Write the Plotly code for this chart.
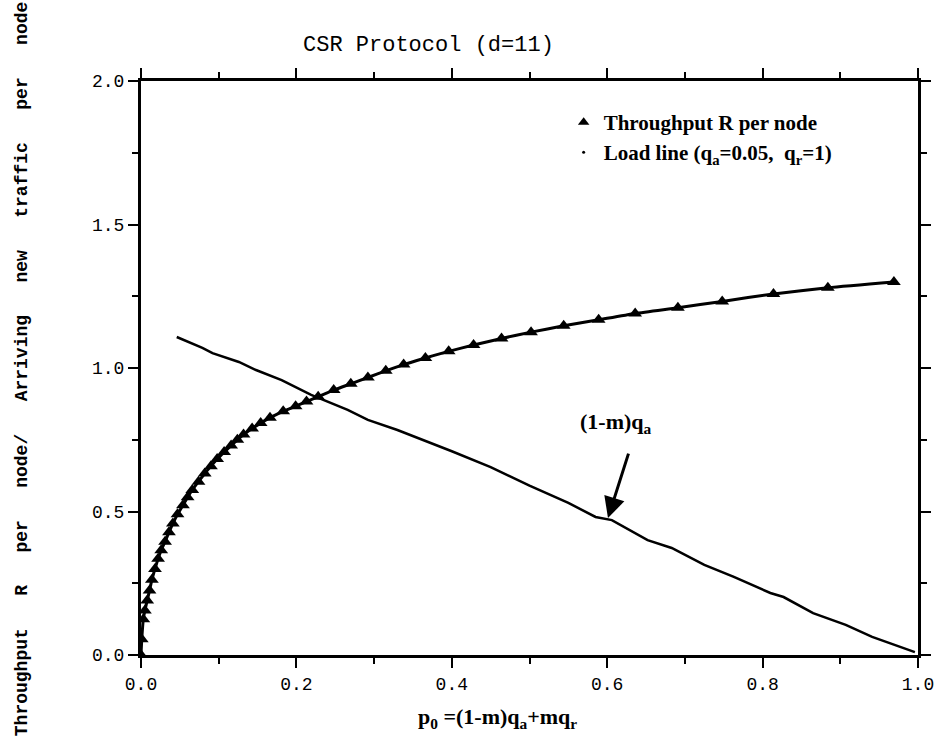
import plotly.graph_objects as go

# Throughput R per node (triangles)
thr_x = [0.0, 0.001, 0.003, 0.005, 0.008, 0.011, 0.014, 0.018, 0.022, 0.026, 0.031, 0.036,
         0.041, 0.047, 0.054, 0.060, 0.066, 0.074, 0.082, 0.090, 0.098, 0.107, 0.116, 0.124,
         0.132, 0.143, 0.154, 0.166, 0.183, 0.199, 0.213, 0.228, 0.248, 0.270, 0.292, 0.315,
         0.338, 0.366, 0.396, 0.428, 0.464, 0.502, 0.544, 0.589, 0.636, 0.691, 0.748, 0.814,
         0.884, 0.969]
thr_y = [0.0, 0.055, 0.125, 0.155, 0.190, 0.225, 0.262, 0.300, 0.335, 0.365, 0.395, 0.428,
         0.458, 0.490, 0.522, 0.550, 0.575, 0.604, 0.632, 0.658, 0.683, 0.707, 0.730, 0.750,
         0.768, 0.789, 0.808, 0.827, 0.849, 0.867, 0.883, 0.900, 0.923, 0.945, 0.967, 0.990,
         1.012, 1.035, 1.058, 1.080, 1.103, 1.125, 1.147, 1.168, 1.190, 1.210, 1.232, 1.258,
         1.280, 1.300]

# Load line (q_a=0.05, q_r=1)
load_x = [0.046, 0.079, 0.092, 0.126, 0.148, 0.181, 0.219, 0.241, 0.266, 0.292, 0.330, 0.400,
          0.450, 0.500, 0.550, 0.585, 0.606, 0.652, 0.683, 0.725, 0.763, 0.810, 0.827, 0.865,
          0.907, 0.941, 0.996]
load_y = [1.108, 1.070, 1.052, 1.021, 0.993, 0.958, 0.906, 0.881, 0.854, 0.819, 0.784, 0.710,
          0.655, 0.590, 0.530, 0.481, 0.470, 0.400, 0.373, 0.314, 0.272, 0.216, 0.202, 0.146,
          0.105, 0.063, 0.010]

x_ticks = [0.0, 0.2, 0.4, 0.6, 0.8, 1.0]
x_tick_labels = ["0.0", "0.2", "0.4", "0.6", "0.8", "1.0"]
y_ticks = [0.0, 0.5, 1.0, 1.5, 2.0]
y_tick_labels = ["0.0", "0.5", "1.0", "1.5", "2.0"]

serif = "Liberation Serif, Times New Roman, serif"
sans = "Liberation Sans, Arial, sans-serif"
mono = "Liberation Mono, Courier New, monospace"

fig = go.Figure()

fig.add_trace(go.Scatter(
    x=thr_x, y=thr_y, mode="lines+markers",
    line=dict(color="black", width=3, shape="spline", smoothing=0.6),
    marker=dict(symbol="triangle-up", size=12, color="black"),
    showlegend=False, hoverinfo="skip"))

fig.add_trace(go.Scatter(
    x=load_x, y=load_y, mode="lines",
    line=dict(color="black", width=2.5),
    showlegend=False, hoverinfo="skip"))

# legend-only entries
fig.add_trace(go.Scatter(
    x=[None], y=[None], mode="markers",
    marker=dict(symbol="triangle-up", size=10, color="black"),
    name="<b>Throughput R per node</b>", legend="legend"))
fig.add_trace(go.Scatter(
    x=[None], y=[None], mode="markers",
    marker=dict(symbol="circle", size=3, color="black"),
    name="<b>Load line (q<sub>a</sub>=0.05,  q<sub>r</sub>=1)</b>", legend="legend2"))

L, T = 141, 81
PW, PH = 785, 574
W, H = 946, 741

def px(sx):
    return (sx - L) / PW

def py(sy):
    return (T + PH - sy) / PH

fig.update_layout(
    width=W, height=H,
    margin=dict(l=L, r=W - L - PW, t=T, b=H - T - PH),
    paper_bgcolor="white", plot_bgcolor="white",
    font=dict(family=sans, color="black", size=16),
    legend=dict(x=px(568), y=py(102), xanchor="left", yanchor="top",
                font=dict(family=serif, size=21, color="black"),
                bgcolor="rgba(0,0,0,0)", borderwidth=0),
    legend2=dict(x=px(568), y=py(132), xanchor="left", yanchor="top",
                 font=dict(family=serif, size=21, color="black"),
                 bgcolor="rgba(0,0,0,0)", borderwidth=0),
    showlegend=True,
)

axis_common = dict(
    showgrid=False, zeroline=False, showline=True, linecolor="black", linewidth=3,
    mirror="ticks", ticks="outside", ticklen=10, tickwidth=2, tickcolor="black",
    tickfont=dict(family=mono, size=18, color="black"),
)

fig.update_xaxes(range=[0, 1.0], tickvals=x_ticks, ticktext=x_tick_labels,
                 minor=dict(dtick=0.1, ticks="outside", ticklen=6, tickwidth=2, tickcolor="black", showgrid=False),
                 **axis_common)
fig.update_yaxes(range=[0, 2.0], tickvals=y_ticks, ticktext=y_tick_labels,
                 minor=dict(dtick=0.25, ticks="outside", ticklen=6, tickwidth=2, tickcolor="black", showgrid=False),
                 **axis_common)

fig.add_annotation(
    text="CSR Protocol (d=11)", xref="paper", yref="paper",
    x=px(431), y=py(45), xanchor="center", yanchor="middle", showarrow=False,
    font=dict(family=mono, size=22, color="black"))

sp = "&nbsp;&nbsp;&nbsp;"
ytitle = sp.join(["Throughput", "R", "per", "node/", "Arriving", "new", "traffic", "per", "node"])
fig.add_annotation(
    text="<b>" + ytitle + "</b>", xref="paper", yref="paper",
    x=px(21), y=py(369), xanchor="center", yanchor="middle", showarrow=False, textangle=-90,
    font=dict(family=mono, size=18, color="black"))

fig.add_annotation(
    text="<b>p<sub>0</sub> =(1-m)q<sub>a</sub>+mq<sub>r</sub></b>", xref="paper", yref="paper",
    x=px(501), y=py(718), xanchor="center", yanchor="middle", showarrow=False,
    font=dict(family=serif, size=22, color="black"))

fig.add_annotation(
    text="<b>(1-m)q<sub>a</sub></b>", x=0.611, y=0.81, showarrow=False,
    font=dict(family=serif, size=22, color="black"))

fig.add_annotation(
    text="", x=0.601, y=0.477, ax=0.628, ay=0.707, axref="x", ayref="y",
    showarrow=True, arrowhead=2, arrowsize=1.4, arrowwidth=3, arrowcolor="black")

fig.write_html(
    "out.html",
    config={"displayModeBar": False, "staticPlot": True},
    post_script="document.body.style.margin='0px';document.body.style.overflow='hidden';",
)
